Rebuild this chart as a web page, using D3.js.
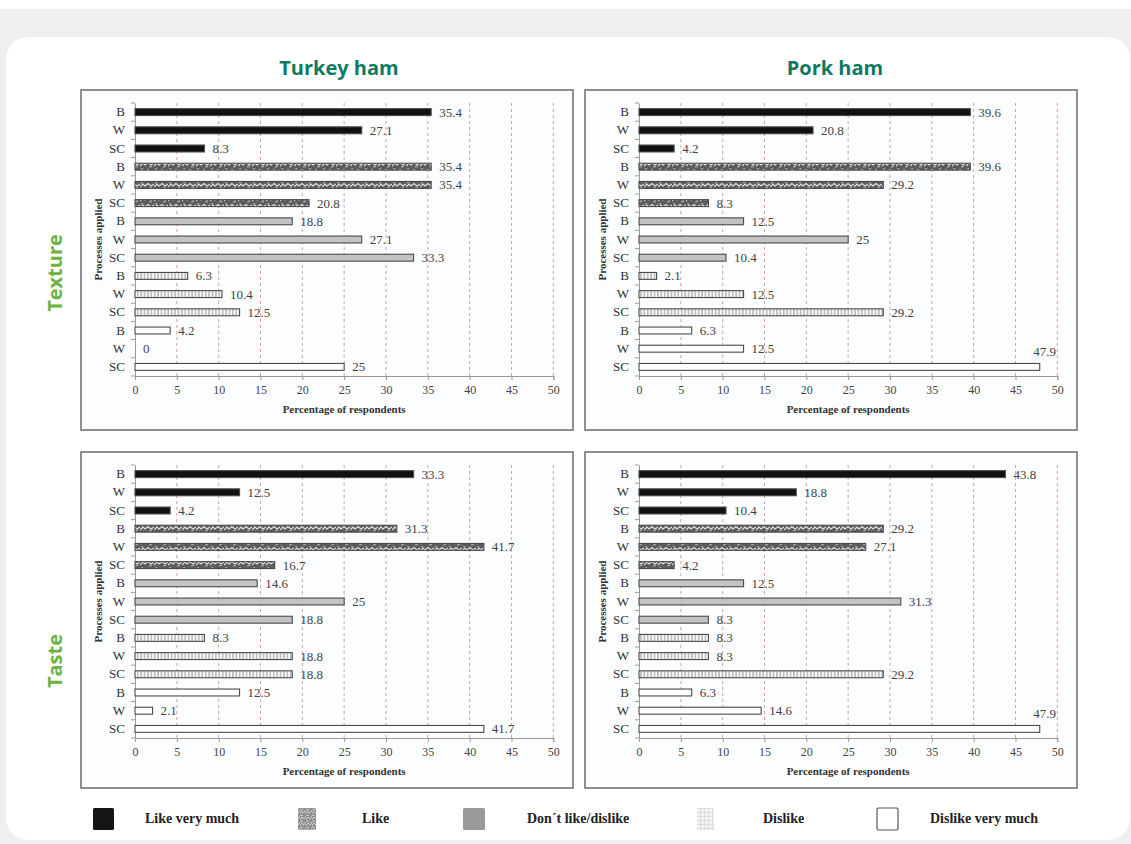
<!DOCTYPE html>
<html><head><meta charset="utf-8">
<script src="https://cdn.jsdelivr.net/npm/d3@7/dist/d3.min.js"></script>
<style>html,body{margin:0;padding:0;background:#fff;}svg{display:block;}</style>
</head><body><svg id="c" width="1131" height="844"></svg>
<script>
// ---------- data ----------
const processes = ["B", "W", "SC"];
const levels = ["Like very much", "Like", "Don\u00b4t like/dislike", "Dislike", "Dislike very much"];
const hams = ["Turkey ham", "Pork ham"];
const attributes = ["Texture", "Taste"];
const xTicks = [0, 5, 10, 15, 20, 25, 30, 35, 40, 45, 50];
// order: for each level (LVM, Like, Neutral, Dislike, DVM) -> B, W, SC
const turkeyTexture = [35.4, 27.1, 8.3, 35.4, 35.4, 20.8, 18.8, 27.1, 33.3, 6.3, 10.4, 12.5, 4.2, 0, 25];
const porkTexture   = [39.6, 20.8, 4.2, 39.6, 29.2, 8.3, 12.5, 25, 10.4, 2.1, 12.5, 29.2, 6.3, 12.5, 47.9];
const turkeyTaste   = [33.3, 12.5, 4.2, 31.3, 41.7, 16.7, 14.6, 25, 18.8, 8.3, 18.8, 18.8, 12.5, 2.1, 41.7];
const porkTaste     = [43.8, 18.8, 10.4, 29.2, 27.1, 4.2, 12.5, 31.3, 8.3, 8.3, 8.3, 29.2, 6.3, 14.6, 47.9];
const xLabel = "Percentage of respondents";
const yLabel = "Processes applied";

// ---------- drawing ----------
const svg = d3.select("#c");
const defs = svg.append("defs");

const pLike = defs.append("pattern").attr("id", "pLike").attr("patternUnits", "userSpaceOnUse")
  .attr("width", 14).attr("height", 7);
pLike.append("rect").attr("width", 14).attr("height", 7).attr("fill", "#5c5c5c");
pLike.append("path").attr("d", "M0,5 L3,2 L5,4 L8,1.5 L11,4 L14,2").attr("fill", "none")
  .attr("stroke", "#e4e4e4").attr("stroke-width", 1.1);
pLike.append("path").attr("d", "M1,1 L3,0.5 M9,6 L12,5.5").attr("fill", "none")
  .attr("stroke", "#cfcfcf").attr("stroke-width", 0.8);

const pDis = defs.append("pattern").attr("id", "pDis").attr("patternUnits", "userSpaceOnUse")
  .attr("width", 3.4).attr("height", 7);
pDis.append("rect").attr("width", 3.4).attr("height", 7).attr("fill", "#fafafa");
pDis.append("line").attr("x1", 1.7).attr("x2", 1.7).attr("y1", 0).attr("y2", 7)
  .attr("stroke", "#8a8a8a").attr("stroke-width", 0.9);

const pLegLike = defs.append("pattern").attr("id", "pLegLike").attr("patternUnits", "userSpaceOnUse")
  .attr("width", 6).attr("height", 6);
pLegLike.append("rect").attr("width", 6).attr("height", 6).attr("fill", "#8f8f8f");
pLegLike.append("path").attr("d", "M0,4 L2,1 L4,3 L6,0 M0,6 L3,5").attr("fill", "none")
  .attr("stroke", "#d0d0d0").attr("stroke-width", 1);

const pLegDis = defs.append("pattern").attr("id", "pLegDis").attr("patternUnits", "userSpaceOnUse")
  .attr("width", 4).attr("height", 4);
pLegDis.append("rect").attr("width", 4).attr("height", 4).attr("fill", "#f4f4f4");
pLegDis.append("path").attr("d", "M0,0.5 H4 M0.5,0 V4").attr("fill", "none")
  .attr("stroke", "#dcdcdc").attr("stroke-width", 1);

const fills = ["#111111", "url(#pLike)", "#c3c3c3", "url(#pDis)", "#ffffff"];
const legFills = ["#151515", "url(#pLegLike)", "#9a9a9a", "url(#pLegDis)", "#ffffff"];

// background
svg.append("rect").attr("width", 1131).attr("height", 844).attr("fill", "#eef0ef");
svg.append("rect").attr("width", 1131).attr("height", 9).attr("fill", "#ffffff");
svg.append("rect").attr("x", 6).attr("y", 37).attr("width", 1124).attr("height", 803)
  .attr("rx", 22).attr("fill", "#ffffff");

const serif = "'Liberation Serif','Times New Roman',serif";
const sans = "'Open Sans','Noto Sans',sans-serif";

const colCenters = [339, 835];
hams.forEach((h, i) => {
  svg.append("text").attr("x", colCenters[i]).attr("y", 75).attr("text-anchor", "middle")
    .attr("font-family", sans).attr("font-weight", 700).attr("font-size", 20)
    .attr("fill", "#0e7a62").text(h);
});
const rowCenters = [273, 661];
attributes.forEach((a, i) => {
  svg.append("text").attr("transform", `translate(62,${rowCenters[i]}) rotate(-90)`)
    .attr("text-anchor", "middle").attr("font-family", sans).attr("font-weight", 700)
    .attr("font-size", 20).attr("fill", "#6cb33f").text(a);
});

const panels = [
  { r: 0, c: 0, vals: turkeyTexture },
  { r: 0, c: 1, vals: porkTexture },
  { r: 1, c: 0, vals: turkeyTaste },
  { r: 1, c: 1, vals: porkTaste }
];
const boxXs = [81, 585], boxYs = [90, 452], boxHs = [340, 336], boxW = 492;

const rows = d3.range(15).map(i => ({ idx: i, level: Math.floor(i / 3), proc: processes[i % 3] }));

panels.forEach(p => {
  const bx = boxXs[p.c], by = boxYs[p.r], bh = boxHs[p.r];
  const g = svg.append("g");
  g.append("rect").attr("x", bx).attr("y", by).attr("width", boxW).attr("height", bh)
    .attr("fill", "#fbfdfe").attr("stroke", "#747474").attr("stroke-width", 1.6);

  const x = d3.scaleLinear().domain([0, 50]).range([bx + 54, bx + 472.3]);
  const y = d3.scaleBand().domain(rows.map(d => d.idx)).range([by + 13, by + 286]).paddingInner(0.62).paddingOuter(0.31);
  const yBot = by + 286, yTop = by + 13;

  g.selectAll(".grid").data(xTicks.filter(t => t > 0)).join("line")
    .attr("x1", d => x(d)).attr("x2", d => x(d)).attr("y1", yTop).attr("y2", yBot)
    .attr("stroke", "#d3a3a3").attr("stroke-width", 1).attr("stroke-dasharray", "3,3");

  const xa = g.append("g").attr("transform", `translate(0,${yBot})`)
    .call(d3.axisBottom(x).tickValues(xTicks).tickSize(4).tickPadding(5));
  xa.select(".domain").attr("stroke", "#9a9a9a");
  xa.selectAll(".tick line").attr("stroke", "#9a9a9a");
  xa.selectAll(".tick text").attr("font-family", serif).attr("font-size", 12).attr("fill", "#444");

  const ya = g.append("g").attr("transform", `translate(${x(0)},0)`)
    .call(d3.axisLeft(y).tickSize(0).tickPadding(10).tickFormat(i => rows[i].proc));
  ya.select(".domain").attr("stroke", "#9a9a9a");
  ya.selectAll(".tick text").attr("font-family", serif).attr("font-size", 13).attr("fill", "#333");
  g.selectAll(".ytk").data(d3.range(16)).join("line")
    .attr("x1", x(0) - 4).attr("x2", x(0))
    .attr("y1", d => yTop + d * y.step()).attr("y2", d => yTop + d * y.step())
    .attr("stroke", "#9a9a9a");

  g.selectAll(".bar").data(rows).join("rect")
    .attr("x", x(0)).attr("y", d => y(d.idx))
    .attr("width", d => Math.max(0, x(p.vals[d.idx]) - x(0))).attr("height", y.bandwidth())
    .attr("fill", d => fills[d.level])
    .attr("stroke", d => p.vals[d.idx] > 0 ? "#4a4a4a" : "none").attr("stroke-width", 1.1);

  g.selectAll(".val").data(rows).join("text")
    .attr("x", d => p.vals[d.idx] >= 45 ? x(p.vals[d.idx]) + 5 : x(p.vals[d.idx]) + 8)
    .attr("y", d => y(d.idx) + y.bandwidth() / 2 + (p.vals[d.idx] >= 45 ? -11 : 4.5))
    .attr("text-anchor", d => p.vals[d.idx] >= 45 ? "middle" : "start")
    .attr("font-family", serif).attr("font-size", 13).attr("fill", "#444")
    .text(d => p.vals[d.idx]);

  g.append("text").attr("x", (x(0) + x(50)) / 2).attr("y", yBot + 37).attr("text-anchor", "middle")
    .attr("font-family", serif).attr("font-weight", 700).attr("font-size", 11).attr("fill", "#333")
    .text(xLabel);
  g.append("text").attr("transform", `translate(${bx + 21},${(yTop + yBot) / 2}) rotate(-90)`)
    .attr("text-anchor", "middle").attr("font-family", serif).attr("font-weight", 700)
    .attr("font-size", 11).attr("fill", "#333").text(yLabel);
});

const legIconX = [93, 298, 463, 697, 877];
const legIconW = [21, 18, 22, 17, 21];
const legTextX = [145, 362, 527, 763, 930];
levels.forEach((l, i) => {
  svg.append("rect").attr("x", legIconX[i]).attr("y", 808).attr("width", legIconW[i]).attr("height", 22)
    .attr("rx", 1.5).attr("fill", legFills[i])
    .attr("stroke", i === 4 ? "#555" : "none").attr("stroke-width", 1.2);
  svg.append("text").attr("x", legTextX[i]).attr("y", 823).attr("font-family", serif)
    .attr("font-weight", 700).attr("font-size", 14).attr("fill", "#222").text(l);
});
</script></body></html>
